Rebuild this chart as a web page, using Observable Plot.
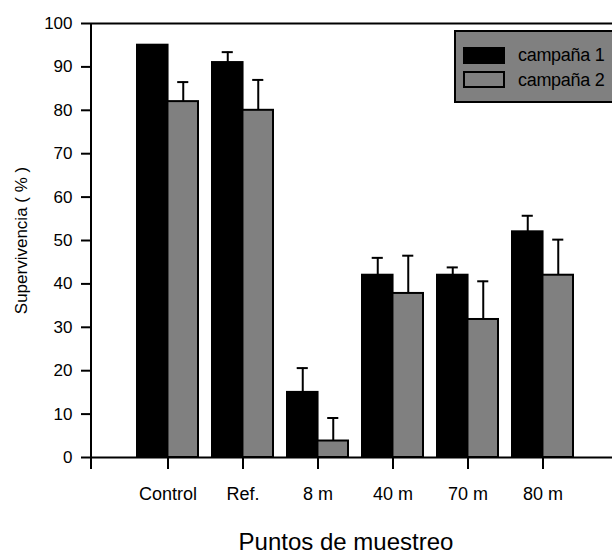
<!DOCTYPE html>
<html>
<head>
<meta charset="utf-8">
<script src="https://cdn.jsdelivr.net/npm/d3@7"></script>
<script src="https://cdn.jsdelivr.net/npm/@observablehq/plot@0.6"></script>
<style>
html, body { margin: 0; padding: 0; background: #fff; overflow: hidden; }
#wrap { position: relative; width: 612px; height: 558px; font-family: "Liberation Sans", Arial, sans-serif; }
#legend { position: absolute; left: 454px; top: 30px; width: 170px; height: 73px; box-sizing: border-box;
  border: 2px solid #000; background: #808080; }
.sw { position: absolute; left: 7px; width: 42px; height: 17px; box-sizing: border-box; border: 2px solid #000; }
.lt { position: absolute; left: 62px; font-size: 18px; line-height: 20px; color: #000; white-space: nowrap; letter-spacing: -0.3px; }
</style>
</head>
<body>
<div id="wrap"></div>
<script>
// ---- data ----
const categories = ["Control", "Ref.", "8 m", "40 m", "70 m", "80 m"];
const seriesNames = ["campaña 1", "campaña 2"];
const campaign1 = [95, 91, 15, 42, 42, 52];
const campaign1Err = [0, 2.4, 5.6, 4, 1.8, 3.7];
const campaign2 = [82, 80, 3.8, 37.8, 31.8, 42];
const campaign2Err = [4.5, 7, 5.3, 8.7, 8.8, 8.2];
const yTicks = [0, 10, 20, 30, 40, 50, 60, 70, 80, 90, 100];
const xTitle = "Puntos de muestreo";
const yTitle = "Supervivencia ( % )";

const data1 = categories.map((c, i) => ({cat: c, v: campaign1[i], e: campaign1Err[i]}));
const data2 = categories.map((c, i) => ({cat: c, v: campaign2[i], e: campaign2Err[i]}));
const err1 = data1.filter(d => d.e > 0);
const err2 = data2.filter(d => d.e > 0);

const half = 30.45;
const yAxisLine = (index, scales, values, dims) => {
  const line = d3.create("svg:line")
    .attr("x1", dims.marginLeft).attr("x2", dims.marginLeft)
    .attr("y1", scales.y(yTicks[yTicks.length - 1]))
    .attr("y2", scales.y(0) + 12)
    .attr("stroke", "black").attr("stroke-width", 2);
  return line.node();
};

const chart = Plot.plot({
  width: 612,
  height: 558,
  marginLeft: 91,
  marginRight: 0,
  marginTop: 23,
  marginBottom: 101,
  style: {fontFamily: "'Liberation Sans', Arial, sans-serif", color: "black", background: "white"},
  x: {domain: categories, paddingInner: 0.19, paddingOuter: 0, insetLeft: 45.5, insetRight: 38.5},
  y: {domain: [0, 100]},
  marks: [
    Plot.barY(data1, {x: "cat", y: "v", fill: "black", stroke: "black", strokeWidth: 2, insetRight: half}),
    Plot.barY(data2, {x: "cat", y: "v", fill: "#808080", stroke: "black", strokeWidth: 2, insetLeft: half}),
    Plot.ruleX(err1, {x: "cat", y1: "v", y2: d => d.v + d.e, dx: -15.25, stroke: "black", strokeWidth: 2}),
    Plot.tickY(err1, {x: "cat", y: d => d.v + d.e, insetLeft: 9.7, insetRight: 40.2, stroke: "black", strokeWidth: 2}),
    Plot.ruleX(err2, {x: "cat", y1: "v", y2: d => d.v + d.e, dx: 15.25, stroke: "black", strokeWidth: 2}),
    Plot.tickY(err2, {x: "cat", y: d => d.v + d.e, insetLeft: 40.2, insetRight: 9.7, stroke: "black", strokeWidth: 2}),
    Plot.ruleY([0], {stroke: "black", strokeWidth: 2}),
    Plot.ruleY([100], {stroke: "black", strokeWidth: 2}),
    yAxisLine,
    Plot.axisY({ticks: yTicks, tickSize: 10, tickPadding: 9, fontSize: 17, label: null, stroke: "black", strokeWidth: 2}),
    Plot.axisX({tickSize: 12, tickPadding: 18, fontSize: 18, label: null, stroke: "black", strokeWidth: 2}),
    Plot.text([xTitle], {frameAnchor: "bottom", dy: 92, dx: -6, fontSize: 24, text: d => d}),
    Plot.text([yTitle], {frameAnchor: "left", textAnchor: "middle", rotate: -90, dx: -70, fontSize: 17, text: d => d})
  ]
});

const wrap = document.getElementById("wrap");
wrap.appendChild(chart);

// legend
const legend = document.createElement("div");
legend.id = "legend";
const swatchFills = ["#000", "#808080"];
const swatchTops = [15, 39];
const textTops = [13, 38];
seriesNames.forEach((name, i) => {
  const sw = document.createElement("div");
  sw.className = "sw";
  sw.style.top = swatchTops[i] + "px";
  sw.style.background = swatchFills[i];
  legend.appendChild(sw);
  const t = document.createElement("div");
  t.className = "lt";
  t.style.top = textTops[i] + "px";
  t.textContent = name;
  legend.appendChild(t);
});
wrap.appendChild(legend);
</script>
</body>
</html>
